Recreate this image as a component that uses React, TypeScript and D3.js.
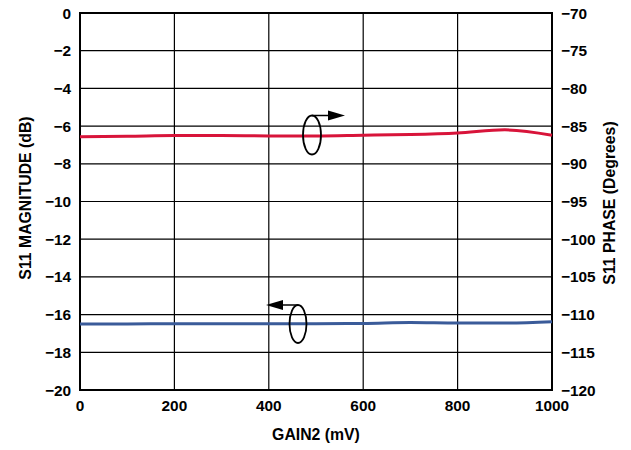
import React from "react";
import * as d3 from "d3";

const gainMv = [0, 100, 200, 300, 400, 500, 600, 700, 800, 900, 1000];
const magnitudeDb = [-16.5, -16.5, -16.48, -16.48, -16.48, -16.48, -16.47, -16.42, -16.45, -16.45, -16.38];
const phaseDeg = [-86.4, -86.35, -86.25, -86.25, -86.3, -86.3, -86.2, -86.1, -85.9, -85.5, -86.2];
const xTicks = [0, 200, 400, 600, 800, 1000];
const leftTicks = [0, -2, -4, -6, -8, -10, -12, -14, -16, -18, -20];
const rightTicks = [-70, -75, -80, -85, -90, -95, -100, -105, -110, -115, -120];

const W = 631, H = 450;
const L = 80, R = 552, T = 13, B = 390;

const fmt = (v: number) => (v < 0 ? "\u2212" + Math.abs(v) : String(v));

export default function App() {
  const x = d3.scaleLinear().domain([0, 1000]).range([L, R]);
  const yL = d3.scaleLinear().domain([-20, 0]).range([B, T]);
  const yR = d3.scaleLinear().domain([-120, -70]).range([B, T]);
  const lineMag = d3.line<number>().x((_, i) => x(gainMv[i])).y((d) => yL(d)).curve(d3.curveMonotoneX);
  const linePh = d3.line<number>().x((_, i) => x(gainMv[i])).y((d) => yR(d)).curve(d3.curveMonotoneX);
  const font = "'Liberation Sans', Arial, Helvetica, sans-serif";
  const fs = 15.4;
  const fsTitle = 15.8;
  return (
    <svg width={W} height={H} style={{ position: "absolute", left: 0, top: 0 }} fontFamily={font} fontWeight="bold">
      <rect x={0} y={0} width={W} height={H} fill="#fff" />
      {leftTicks.map((t) => (
        <line key={"h" + t} x1={L} x2={R} y1={yL(t)} y2={yL(t)} stroke="#000" strokeWidth={1.2} />
      ))}
      {xTicks.map((t) => (
        <line key={"v" + t} x1={x(t)} x2={x(t)} y1={T} y2={B} stroke="#000" strokeWidth={1.2} />
      ))}
      <rect x={L} y={T} width={R - L} height={B - T} fill="none" stroke="#000" strokeWidth={2} />
      <path d={linePh(phaseDeg) || ""} fill="none" stroke="#d8143a" strokeWidth={3} />
      <path d={lineMag(magnitudeDb) || ""} fill="none" stroke="#3a5b99" strokeWidth={3} />
      {/* markers */}
      <ellipse cx={312} cy={135} rx={9} ry={19.5} fill="none" stroke="#000" strokeWidth={1.8} />
      <line x1={312} y1={115.5} x2={330} y2={115.5} stroke="#000" strokeWidth={1.5} />
      <polygon points="328,110.5 345,115.5 328,120.5" fill="#000" />
      <ellipse cx={298} cy={324} rx={8.5} ry={19} fill="none" stroke="#000" strokeWidth={1.8} />
      <line x1={298} y1={305} x2={281} y2={305} stroke="#000" strokeWidth={1.5} />
      <polygon points="283,300 266,305 283,310" fill="#000" />
      {leftTicks.map((t) => (
        <text key={"lt" + t} x={71} y={yL(t)} dy="0.36em" textAnchor="end" fontSize={fs}>{fmt(t)}</text>
      ))}
      {rightTicks.map((t) => (
        <text key={"rt" + t} x={561} y={yR(t)} dy="0.36em" textAnchor="start" fontSize={fs}>{fmt(t)}</text>
      ))}
      {xTicks.map((t) => (
        <text key={"xt" + t} x={x(t)} y={411} textAnchor="middle" fontSize={fs}>{t}</text>
      ))}
      <text x={316} y={440} textAnchor="middle" fontSize={fsTitle}>GAIN2 (mV)</text>
      <text transform={`translate(31, 198) rotate(-90)`} textAnchor="middle" fontSize={fsTitle}>S11 MAGNITUDE (dB)</text>
      <text transform={`translate(615, 203) rotate(-90)`} textAnchor="middle" fontSize={fsTitle}>S11 PHASE (Degrees)</text>
    </svg>
  );
}
